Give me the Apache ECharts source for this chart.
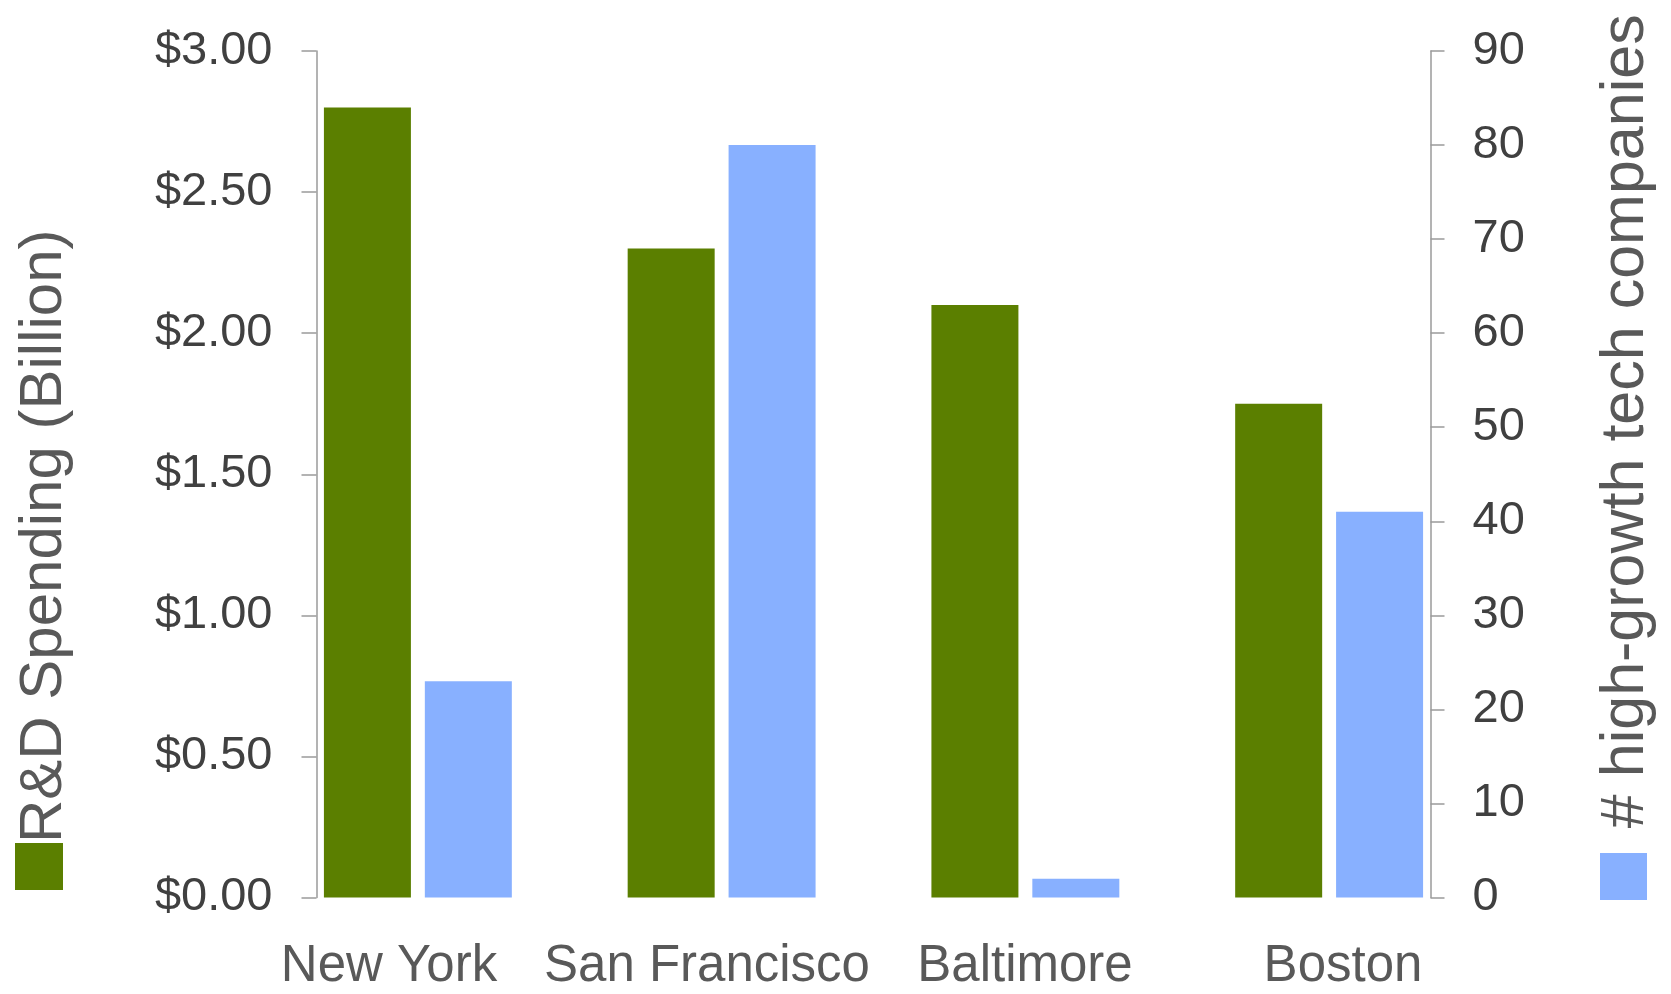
<!DOCTYPE html>
<html>
<head>
<meta charset="utf-8">
<script src="https://cdn.jsdelivr.net/npm/echarts@6/dist/echarts.min.js"></script>
<style>
  html, body { margin: 0; padding: 0; background: #fff; }
  #chart { width: 1671px; height: 994px; }
</style>
</head>
<body>
<div id="chart"></div>
<script>
  // data
  var cities = ['New York', 'San Francisco', 'Baltimore', 'Boston'];
  var rdSpending = [2.8, 2.3, 2.1, 1.75];      // billion $
  var techCompanies = [23, 80, 2, 41];          // # high-growth tech companies

  var FONT = '"Liberation Sans", Arial, sans-serif';
  var axisGray = '#9a9a9a';

  var myChart = echarts.init(document.getElementById('chart'));

  var option = {
    animation: false,
    grid: [
      // bars
      { left: 266, right: 190, top: 51, bottom: 96.5 },
      // category labels only (spread a bit wider than the bars)
      { left: 230, right: 169, top: 51, bottom: 96.5 }
    ],
    legend: [
      {
        data: ['R&D Spending (Billion)'],
        left: 15, top: 843,
        padding: 0,
        icon: 'rect',
        itemWidth: 48, itemHeight: 47,
        selectedMode: false,
        formatter: function () { return ''; }
      },
      {
        data: ['# high-growth tech companies'],
        left: 1600, top: 853,
        padding: 0,
        icon: 'rect',
        itemWidth: 47, itemHeight: 47,
        selectedMode: false,
        formatter: function () { return ''; }
      }
    ],
    xAxis: [
      {
        type: 'category',
        gridIndex: 0,
        data: cities,
        axisLine: { show: false },
        axisTick: { show: false },
        axisLabel: { show: false }
      },
      {
        type: 'category',
        gridIndex: 1,
        data: cities,
        axisLine: { show: false },
        axisTick: { show: false },
        axisLabel: {
          interval: 0,
          margin: 44,
          fontFamily: FONT,
          fontSize: 51,
          color: '#595959'
        }
      }
    ],
    yAxis: [
      {
        type: 'value',
        gridIndex: 0,
        position: 'left',
        offset: -50.5,
        min: 0, max: 3, interval: 0.5,
        splitLine: { show: false },
        axisLine: { show: true, lineStyle: { color: axisGray, width: 1.5 } },
        axisTick: { show: true, length: 15, lineStyle: { color: axisGray, width: 1.5 } },
        axisLabel: {
          margin: 44,
          fontFamily: FONT,
          fontSize: 47,
          color: '#404040',
          formatter: function (v) { return '$' + v.toFixed(2); }
        },
        name: 'R&D Spending (Billion)',
        nameLocation: 'middle',
        nameRotate: 90,
        nameGap: 242,
        nameTextStyle: {
          fontFamily: FONT,
          fontSize: 60,
          color: '#595959',
          padding: [0, 124, 0, 0]
        }
      },
      {
        type: 'value',
        gridIndex: 0,
        position: 'right',
        offset: -50.5,
        min: 0, max: 90, interval: 10,
        splitLine: { show: false },
        axisLine: { show: true, lineStyle: { color: axisGray, width: 1.5 } },
        axisTick: { show: true, length: 14, lineStyle: { color: axisGray, width: 1.5 } },
        axisLabel: {
          margin: 42,
          fontFamily: FONT,
          fontSize: 47,
          color: '#404040'
        },
        name: '# high-growth tech companies',
        nameLocation: 'middle',
        nameRotate: 90,
        nameGap: 165,
        nameTextStyle: {
          fontFamily: FONT,
          fontSize: 61,
          color: '#595959',
          padding: [0, 0, 0, 106]
        }
      },
      {
        type: 'value',
        gridIndex: 1,
        show: false
      }
    ],
    series: [
      {
        name: 'R&D Spending (Billion)',
        type: 'bar',
        xAxisIndex: 0,
        yAxisIndex: 0,
        data: rdSpending,
        barWidth: 87,
        barGap: '16%',
        itemStyle: { color: '#5b7f00' }
      },
      {
        name: '# high-growth tech companies',
        type: 'bar',
        xAxisIndex: 0,
        yAxisIndex: 1,
        data: techCompanies,
        barWidth: 87,
        barGap: '16%',
        itemStyle: { color: '#88b0ff' }
      }
    ]
  };

  myChart.setOption(option);

  window.addEventListener('resize', function () {
    myChart.resize();
  });
</script>
</body>
</html>
